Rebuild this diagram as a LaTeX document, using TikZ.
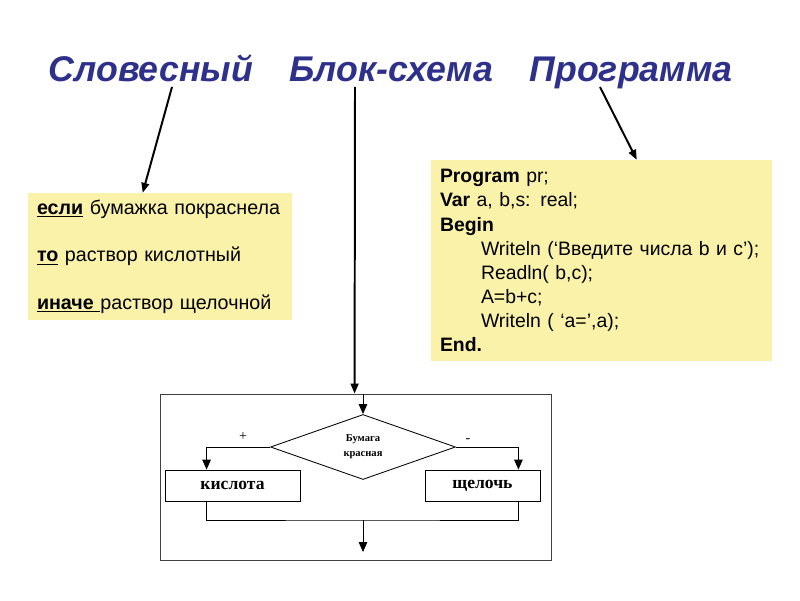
\documentclass[tikz,border=0pt]{standalone}
\usepackage{fontspec}
\setmainfont{Liberation Sans}
\newfontfamily\timesfont{Liberation Serif}
\usetikzlibrary{shapes.geometric, positioning, arrows.meta, calc}
\definecolor{HeadBlue}{RGB}{46,49,140}
\definecolor{NoteYellow}{RGB}{250,242,168}

\begin{document}
\begin{tikzpicture}[
          head/.style={font=\fontsize{25.4}{28}\selectfont\bfseries\itshape,
                       text=HeadBlue, anchor=base},
          note/.style={rectangle, fill=NoteYellow, align=left, inner xsep=0.225cm,
                       inner ysep=0pt},
          pointer/.style={-{Triangle[length=7pt,width=5.5pt]}, line width=1.4pt},
          flow/.style={line width=0.6pt},
          farr/.style={flow, -{Triangle[length=7pt,width=6pt]}},
          blk/.style={rectangle, draw, line width=0.6pt, minimum height=0.775cm,
                      font=\timesfont\fontsize{12.5}{14}\selectfont\bfseries}
        ]
        \useasboundingbox (0,0) rectangle (20,15);

        % Headings
        \node[head] (slov) at (3.775, 12.95) {Словесный};
        \node[head] (bsh)  at (9.775, 12.95) {Блок-схема};
        \node[head] (prg)  at (15.775, 12.95) {Программа};

        % Verbal description
        \node[note, text width=6.15cm, minimum height=3.175cm,
              font=\fontsize{14}{33.8}\selectfont]
              (slovbox) at (4.0, 8.5875)
              {\underline{\textbf{если}} бумажка покраснела\\
               \underline{\textbf{то}} раствор кислотный\\
               \underline{\textbf{иначе\ }}раствор щелочной};

        % Program text
        \node[note, text width=8.075cm, minimum height=5.025cm,
              font=\fontsize{13.8}{17.1}\selectfont]
              (prgbox) at (15.0375, 8.4875)
              {\textbf{Program} pr;\\
               \textbf{Var} a, b,s: real;\\
               \textbf{Begin}\\
               \hspace*{1.025cm}Writeln (‘Введите числа b и c’);\\
               \hspace*{1.025cm}Readln( b,c);\\
               \hspace*{1.025cm}A=b+c;\\
               \hspace*{1.025cm}Writeln ( ‘a=’,a);\\
               \textbf{End.}};

        % Flowchart frame
        \node[rectangle, draw=black!75, line width=0.6pt, minimum width=9.775cm,
              minimum height=4.15cm, inner sep=0pt]
              (frame) at (8.8875, 3.075) {};

        % Pointers from headings
        \coordinate (p1) at (4.3, 12.825);
        \coordinate (p2) at (8.875, 12.825);
        \coordinate (p3) at (15.0, 12.825);
        \draw[pointer] (p1) -- ($(slovbox.north west)+(2.875,0)$);
        \draw[pointer] (p2) -- ($(frame.north west)+(4.875,0)$);
        \draw[pointer] (p3) -- ($(prgbox.north west)+(5.15,0)$);

        % Flowchart
        \node[draw, diamond, aspect=2.85, minimum width=4.625cm,
              minimum height=1.625cm, inner sep=0pt, line width=0.6pt, align=center,
              font=\timesfont\fontsize{7.5}{10.7}\selectfont\bfseries]
              (cond) at (9.075, 3.825) {Бумага\\красная};
        \node[blk, minimum width=3.375cm] (acid) at (5.8125, 2.8625) {кислота};
        \node[blk, minimum width=2.875cm] (alk) at (12.0625, 2.8625) {щелочь};

        \coordinate (in) at (9.075, 5.15);
        \draw[farr] (in) -- (cond.north);
        \draw[farr] (cond.west) -| ($(acid.north west)+(1.05,0)$);
        \draw[farr] (cond.east) -| ($(alk.north east)+(-0.55,0)$);
        \node[font=\timesfont\fontsize{10}{12}\selectfont] (plus) at (6.075, 4.075) {+};
        \node[font=\timesfont\fontsize{10}{12}\selectfont] (minus) at (11.7, 3.975) {-};

        \coordinate (join) at (9.075, 2.0);
        \coordinate (out) at (9.075, 1.2);
        \draw[flow] ($(acid.south west)+(1.05,0)$) |- (join)
                    -| ($(alk.south east)+(-0.55,0)$);
        \draw[farr] (join) -- (out);
      \end{tikzpicture}
\end{document}
